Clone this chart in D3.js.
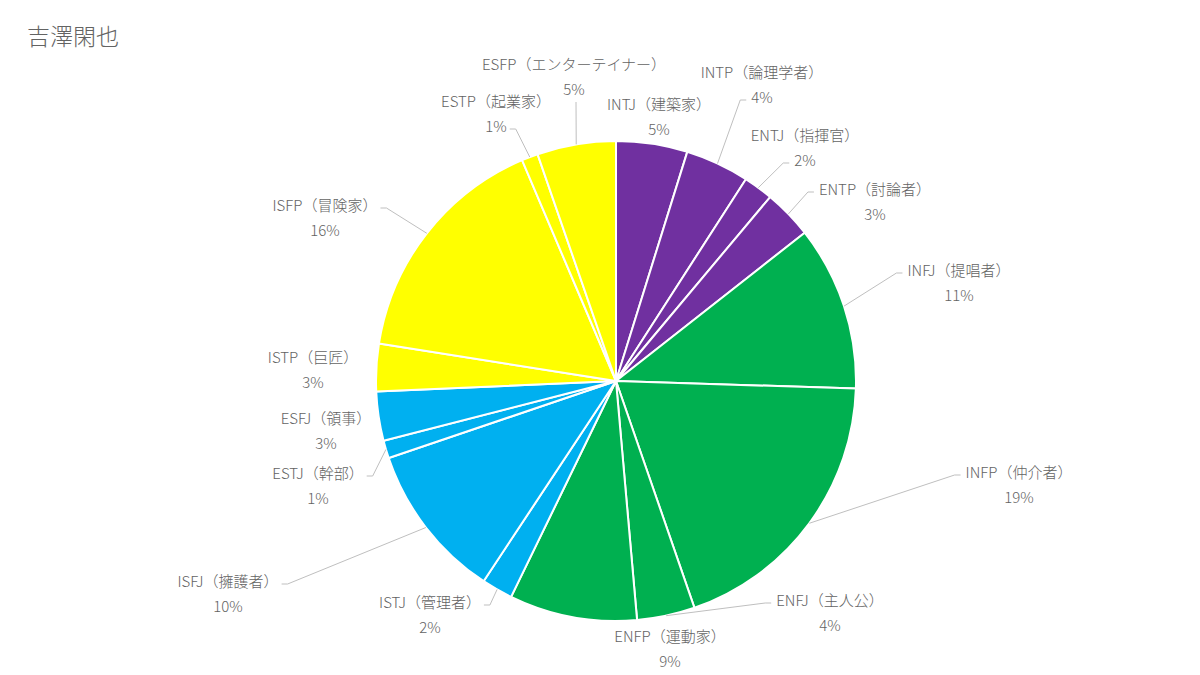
<!DOCTYPE html>
<html><head><meta charset="utf-8">
<script src="https://cdn.jsdelivr.net/npm/d3@7"></script>
<style>
html,body{margin:0;padding:0;background:#fff;}
text{font-family:"Noto Sans CJK JP","Noto Sans",sans-serif;fill:#636363;font-weight:300;}
</style></head>
<body>
<svg id="chart" width="1200" height="675"></svg>
<script>
// ---- data ----
const title = "吉澤閑也";
const types = ["INTJ","INTP","ENTJ","ENTP","INFJ","INFP","ENFJ","ENFP","ISTJ","ISFJ","ESTJ","ESFJ","ISTP","ISFP","ESTP","ESFP"];
const names = ["建築家","論理学者","指揮官","討論者","提唱者","仲介者","主人公","運動家","管理者","擁護者","幹部","領事","巨匠","冒険家","起業家","エンターテイナー"];
const values = [4.8,4.3,2.0,3.3,11.1,19.2,3.9,8.6,2.1,10.5,1.2,3.3,3.2,16.1,1.1,5.3];
const groups = ["NT","NT","NT","NT","NF","NF","NF","NF","SJ","SJ","SJ","SJ","SP","SP","SP","SP"];
const groupColors = {NT:"#7030A0", NF:"#00B050", SJ:"#00B0F0", SP:"#FFFF00"};

// ---- layout (label placement relative to pie centre) ----
const cx = 616, cy = 381, R = 240;
const labelDX = [43,146,189,259,343,403,214,54,-186,-388,-298,-290,-303,-291,-120,-42];
const labelDY = [-278,-310,-247,-193,-112,90,218,254,220,199,91,36,-25,-177,-281,-318];
// leader: [line index, side] or null
const leader = [null,[1,"l"],[1,"l"],[0,"l"],[0,"l"],[0,"l"],[0,"l"],null,[0,"r"],[0,"r"],[0,"r"],null,null,[0,"r"],[1,"r"],[1,"b"]];
const lineGap = 25;

const svg = d3.select("#chart");
svg.append("text").attr("x",27).attr("y",45).attr("font-size",23).text(title);

const data = types.map((t,i)=>({type:t,name:names[i],value:values[i],group:groups[i],i}));
const total = d3.sum(values);
const pct = d3.format(".0%");

const pie = d3.pie().sort(null).value(d=>d.value);
const arcs = pie(data);
const arc = d3.arc().innerRadius(0).outerRadius(R);

const g = svg.append("g").attr("transform",`translate(${cx},${cy})`);
g.selectAll("path.slice").data(arcs).join("path")
  .attr("class","slice")
  .attr("d",arc)
  .attr("fill",d=>groupColors[d.data.group])
  .attr("stroke","#fff").attr("stroke-width",2).attr("stroke-linejoin","round");

const lg = g.append("g");
const tg = g.append("g");

arcs.forEach((a,k)=>{
  const d = a.data;
  const x = labelDX[k], y1 = labelDY[k], y2 = y1 + lineGap;
  const t1 = tg.append("text").attr("x",x).attr("y",y1).attr("text-anchor","middle")
    .attr("dominant-baseline","central").attr("font-size",15).text(`${d.type}（${d.name}）`);
  const t2 = tg.append("text").attr("x",x).attr("y",y2).attr("text-anchor","middle")
    .attr("dominant-baseline","central").attr("font-size",15).text(pct(d.value/total));
  const L = leader[k];
  if(!L) return;
  const tt = L[0]===0 ? t1 : t2;
  const w = tt.node().getComputedTextLength();
  const ly = L[0]===0 ? y1 : y2;
  const mid = (a.startAngle + a.endAngle)/2;
  const px = R*Math.sin(mid), py = -R*Math.cos(mid);
  let pts;
  if(L[1]==="l"){
    const ax = x - w/2 - 5, ay = ly + 4;
    pts = [[ax,ay],[ax-6,ay],[px,py]];
  } else if(L[1]==="r"){
    const ax = x + w/2 + 3, ay = ly + 4;
    pts = [[ax,ay],[ax+6,ay],[px,py]];
  } else {
    const ax = x + 2, ay = ly + 14;
    pts = [[ax,ay],[px,py]];
  }
  lg.append("path").attr("d",d3.line()(pts)).attr("fill","none")
    .attr("stroke","#BFBFBF").attr("stroke-width",1);
});
</script>
</body></html>
